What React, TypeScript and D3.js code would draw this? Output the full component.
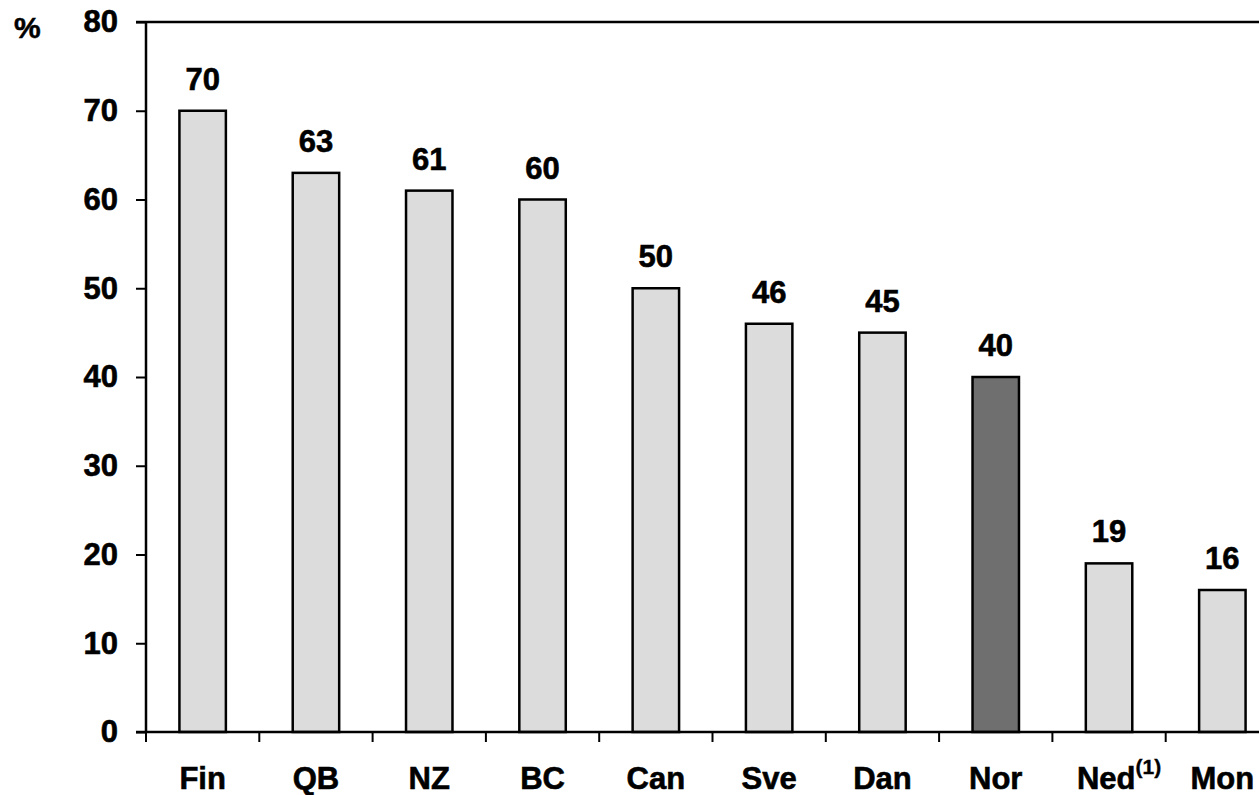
import { useEffect, useRef } from 'react';
import * as d3 from 'd3';

const categories = ['Fin', 'QB', 'NZ', 'BC', 'Can', 'Sve', 'Dan', 'Nor', 'Ned', 'Mon'];
const values = [70, 63, 61, 60, 50, 46, 45, 40, 19, 16];
const highlighted = ['Nor'];
const yTicks = [0, 10, 20, 30, 40, 50, 60, 70, 80];

const W = 1259;
const H = 795;
const FONT = '"Liberation Sans", Arial, sans-serif';

export default function App() {
  const svgRef = useRef<SVGSVGElement | null>(null);

  useEffect(() => {
    if (!svgRef.current) return;
    const svg = d3.select(svgRef.current);
    svg.selectAll('*').remove();

    const x = d3.scaleBand<string>().domain(categories).range([146, 1279]).padding(0);
    const y = d3.scaleLinear().domain([0, 80]).range([732, 22]);
    const barW = x.bandwidth() * 0.41;

    const g = svg.append('g');

    // bars
    g.selectAll('rect.bar')
      .data(categories)
      .join('rect')
      .attr('class', 'bar')
      .attr('x', (d) => (x(d) ?? 0) + x.bandwidth() / 2 - barW / 2)
      .attr('y', (_, i) => y(values[i]))
      .attr('width', barW)
      .attr('height', (_, i) => y(0) - y(values[i]))
      .attr('fill', (d) => (highlighted.includes(d) ? '#6f6f6f' : '#dcdcdc'))
      .attr('stroke', '#000')
      .attr('stroke-width', 2.5);

    // value labels
    g.selectAll('text.val')
      .data(categories)
      .join('text')
      .attr('class', 'val')
      .attr('x', (d) => (x(d) ?? 0) + x.bandwidth() / 2)
      .attr('y', (_, i) => y(values[i]) - 21)
      .attr('text-anchor', 'middle')
      .attr('font-family', FONT)
      .attr('font-weight', 'bold')
      .attr('font-size', 31)
      .attr('stroke', '#000')
      .attr('stroke-width', 0.6)
      .text((_, i) => values[i]);

    // y axis
    const yAxis = d3
      .axisLeft(y)
      .tickValues(yTicks)
      .tickSize(10)
      .tickPadding(18)
      .tickFormat((d) => String(d));
    const ya = g.append('g').attr('transform', 'translate(146,0)').call(yAxis);
    ya.select('.domain').attr('stroke-width', 2.5).attr('d', `M0,${y(80)}V${y(0)}`);
    ya.selectAll('.tick line').attr('stroke-width', 2);
    ya.selectAll('.tick text')
      .attr('font-family', FONT)
      .attr('font-weight', 'bold')
      .attr('font-size', 31)
      .attr('fill', '#000')
      .attr('stroke', '#000')
      .attr('stroke-width', 0.6);

    // top border line
    g.append('line')
      .attr('x1', 136)
      .attr('x2', W)
      .attr('y1', y(80))
      .attr('y2', y(80))
      .attr('stroke', '#000')
      .attr('stroke-width', 2.5);

    // x axis baseline with ticks at band boundaries
    g.append('line')
      .attr('x1', 136)
      .attr('x2', W)
      .attr('y1', y(0))
      .attr('y2', y(0))
      .attr('stroke', '#000')
      .attr('stroke-width', 2.5);

    g.selectAll('line.xt')
      .data(categories)
      .join('line')
      .attr('class', 'xt')
      .attr('x1', (d) => x(d) ?? 0)
      .attr('x2', (d) => x(d) ?? 0)
      .attr('y1', y(0))
      .attr('y2', y(0) + 10)
      .attr('stroke', '#000')
      .attr('stroke-width', 2);

    // category labels
    const cl = g
      .selectAll('text.cat')
      .data(categories)
      .join('text')
      .attr('class', 'cat')
      .attr('x', (d) => (x(d) ?? 0) + x.bandwidth() / 2 + (d === 'Ned' ? 10 : 0))
      .attr('y', 789)
      .attr('text-anchor', 'middle')
      .attr('font-family', FONT)
      .attr('font-weight', 'bold')
      .attr('font-size', 31)
      .attr('stroke', '#000')
      .attr('stroke-width', 0.6)
      .text((d) => d);
    cl.filter((d) => d === 'Ned')
      .append('tspan')
      .attr('dy', -15)
      .attr('font-size', 21)
      .attr('stroke-width', 0.4)
      .text('(1)');

    // unit label
    g.append('text')
      .attr('x', 14)
      .attr('y', 38)
      .attr('font-family', FONT)
      .attr('font-weight', 'bold')
      .attr('font-size', 30)
      .attr('stroke', '#000')
      .attr('stroke-width', 0.5)
      .text('%');
  }, []);

  return (
    <svg
      ref={svgRef}
      width={W}
      height={H}
      style={{ position: 'absolute', left: 0, top: 0, display: 'block', background: '#fff' }}
    />
  );
}
